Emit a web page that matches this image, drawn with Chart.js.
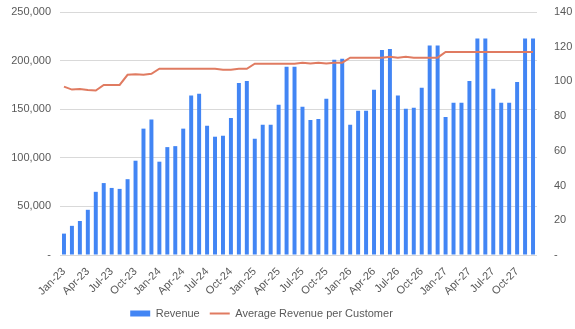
<!DOCTYPE html>
<html>
<head>
<meta charset="utf-8">
<script src="https://cdn.jsdelivr.net/npm/chart.js@4/dist/chart.umd.min.js"></script>
<style>
  body { margin: 0; background: #fff; }
</style>
</head>
<body>
<canvas id="myChart" width="575" height="329"></canvas>
<script>
// months Jan-23 .. Dec-27
var monthNames = ['Jan', 'Feb', 'Mar', 'Apr', 'May', 'Jun', 'Jul', 'Aug', 'Sep', 'Oct', 'Nov', 'Dec']
var years = ['23', '24', '25', '26', '27']
var months = []
for (var y = 0; y < years.length; y++) {
  for (var m = 0; m < monthNames.length; m++) {
    months.push(monthNames[m] + '-' + years[y])
  }
}

var revenue = [
  22000, 30000, 35000, 46500, 65000, 74000, 69000, 68000, 78000, 97000, 130000, 139500,
  96000, 111000, 112000, 130000, 164000, 166000, 133000, 121700, 122700, 141000, 177000, 179000,
  119600, 134000, 134000, 154600, 193800, 193800, 152600, 139000, 140000, 160800, 201000, 202000,
  134000, 148500, 148500, 170000, 211000, 212000, 164000, 150500, 151500, 172000, 215500, 215500,
  142000, 156700, 156700, 179000, 222700, 222700, 171000, 156700, 156700, 178000, 222700, 222700
]

var avgRevenuePerCustomer = [
  97, 95.3, 95.7, 95, 94.8, 98, 98, 98, 103.8, 104.2, 103.8, 104.4,
  107.3, 107.3, 107.3, 107.3, 107.3, 107.3, 107.3, 107.3, 106.8, 106.8, 107.3, 107.3,
  110.2, 110.2, 110.2, 110.2, 110.2, 110.2, 110.8, 110.4, 110.8, 110.4, 110.8, 110.8,
  113.7, 113.7, 113.7, 113.7, 113.7, 114.2, 113.7, 114.2, 113.7, 113.7, 113.7, 113.7,
  117, 117, 117, 117, 117, 117, 117, 117, 117, 117, 117, 117
]

var textColor = '#595959'
var gridColor = '#d9d9d9'

Chart.defaults.font.family = '"Liberation Sans", Arial, sans-serif'
Chart.defaults.font.size = 11
Chart.defaults.color = textColor

// fixed axis sizes so the plot area lands where the original one is
function fixWidth(w) {
  return function(axis) {
    axis.width = w
    axis.paddingTop = 0
    axis.paddingBottom = 0
  }
}

// the original legend sits a bit left of the canvas centre
var legendShift = {
  id: 'legendShift',
  afterLayout: function(chart) {
    chart.legend.left -= 26
    chart.legend.right -= 26
  }
}

var ctx = document.getElementById('myChart').getContext('2d')
var myChart = new Chart(ctx, {
  type: 'bar',
  data: {
    labels: months,
    datasets: [{
      label: 'Revenue',
      data: revenue,
      backgroundColor: '#4285f4',
      barPercentage: 0.5,
      categoryPercentage: 1,
      yAxisID: 'y',
      pointStyle: 'rect',
      order: 1
    }, {
      type: 'line',
      label: 'Average Revenue per Customer',
      data: avgRevenuePerCustomer,
      borderColor: '#e07b61',
      backgroundColor: '#e07b61',
      borderWidth: 2,
      pointRadius: 0,
      tension: 0,
      yAxisID: 'y1',
      pointStyle: 'line',
      order: 0
    }]
  },
  options: {
    responsive: false,
    animation: false,
    layout: {
      padding: { top: 12, right: 0, left: 0, bottom: 0 }
    },
    plugins: {
      legend: {
        position: 'bottom',
        labels: {
          usePointStyle: true,
          pointStyleWidth: 20,
          boxHeight: 6,
          padding: 10,
          color: textColor,
          // keep Revenue first like the original
          sort: function(a, b) {
            return a.datasetIndex - b.datasetIndex
          }
        }
      },
      tooltip: { enabled: false }
    },
    scales: {
      x: {
        grid: { display: false },
        border: { display: false },
        ticks: {
          autoSkip: false,
          maxRotation: 45,
          minRotation: 45,
          padding: 2,
          callback: function(value, index) {
            return index % 3 === 0 ? months[index] : ''
          }
        },
        afterFit: function(axis) {
          axis.height = 43
        }
      },
      y: {
        position: 'left',
        min: 0,
        max: 250000,
        grid: { color: gridColor, drawTicks: false },
        border: { display: false },
        ticks: {
          stepSize: 50000,
          padding: 9,
          callback: function(value) {
            return value === 0 ? '-' : value.toLocaleString('en-US')
          }
        },
        afterFit: fixWidth(60)
      },
      y1: {
        position: 'right',
        min: 0,
        max: 140,
        grid: { display: false },
        border: { display: false },
        ticks: {
          stepSize: 20,
          padding: 9,
          callback: function(value) {
            return value === 0 ? '-' : value
          }
        },
        afterFit: fixWidth(38)
      }
    }
  },
  plugins: [legendShift]
})
</script>
</body>
</html>
